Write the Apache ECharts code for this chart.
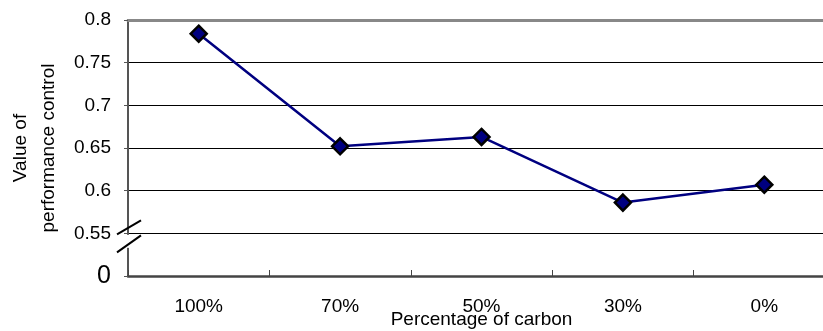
<!DOCTYPE html>
<html>
<head>
<meta charset="utf-8">
<script src="https://cdn.jsdelivr.net/npm/echarts@6/dist/echarts.min.js"></script>
<style>
html,body{margin:0;padding:0;background:#fff;}
#main{width:823px;height:331px;}
</style>
</head>
<body>
<div id="main"></div>
<script>
// ---- data ----
var xCategories = ['100%', '70%', '50%', '30%', '0%'];
var yValues = [0.784, 0.652, 0.663, 0.586, 0.607];
// tick labels for the broken axis: the lowest tick stands for 0
var yTickValues = [0.5, 0.55, 0.6, 0.65, 0.7, 0.75, 0.8];
var yTickLabels = ['0', '0.55', '0.6', '0.65', '0.7', '0.75', '0.8'];
var xAxisTitle = 'Percentage of carbon';
var yAxisTitle = 'Value of\nperformance control';

var FONT = '"Liberation Sans", Arial, sans-serif';
var FS = 19;
var chart = echarts.init(document.getElementById('main'), null, {renderer: 'canvas'});

function yLabel(v) {
  var best = 0, bd = Infinity;
  for (var i = 0; i < yTickValues.length; i++) {
    var d = Math.abs(yTickValues[i] - v);
    if (d < bd) { bd = d; best = i; }
  }
  if (best === 0) return '{big|' + yTickLabels[best] + '}';
  return yTickLabels[best];
}

chart.setOption({
  animation: false,
  backgroundColor: '#fff',
  textStyle: {fontFamily: FONT},
  grid: {left: 128, right: -12, top: 20, bottom: 55, containLabel: false, outerBoundsMode: 'none'},
  xAxis: [{
    type: 'category',
    data: xCategories,
    boundaryGap: true,
    position: 'bottom',
    axisLine: {onZero: false, lineStyle: {color: '#444', width: 2.5}},
    axisTick: {show: true, inside: true, length: 6, lineStyle: {color: '#444', width: 1}},
    axisLabel: {color: '#000', fontSize: FS, fontFamily: FONT, margin: 21},
    splitLine: {show: false},
    name: xAxisTitle,
    nameLocation: 'middle',
    nameGap: 34,
    nameMoveOverlap: false,
    nameTextStyle: {color: '#000', fontSize: FS, fontFamily: FONT}
  }, {
    type: 'category',
    data: xCategories,
    position: 'top',
    axisLine: {onZero: false, lineStyle: {color: '#888', width: 3}},
    axisTick: {show: false},
    axisLabel: {show: false},
    splitLine: {show: false}
  }],
  yAxis: {
    type: 'value',
    min: 0.5,
    max: 0.8,
    interval: 0.05,
    axisLine: {show: true, onZero: false, lineStyle: {color: '#555', width: 2}},
    axisTick: {show: true, inside: false, length: 4, lineStyle: {color: '#555', width: 1}},
    axisLabel: {
      color: '#000', fontSize: FS, fontFamily: FONT, margin: 17,
      formatter: yLabel,
      rich: {big: {fontSize: 25, fontFamily: FONT, color: '#000'}}
    },
    splitLine: {show: true, lineStyle: {color: '#000', width: 1}},
    name: yAxisTitle,
    nameLocation: 'middle',
    nameGap: 65,
    nameRotate: 90,
    nameMoveOverlap: false,
    nameTextStyle: {color: '#000', fontSize: FS, fontFamily: FONT, lineHeight: 28, align: 'center'}
  },
  series: [{
    type: 'line',
    data: yValues,
    xAxisIndex: 0,
    symbol: 'diamond',
    symbolSize: 16,
    showSymbol: true,
    lineStyle: {color: '#000080', width: 2.5},
    itemStyle: {color: '#000080', borderColor: '#000', borderWidth: 2.5},
    z: 5
  }]
});

// axis break marks between the lowest tick (0) and 0.55
var p0 = chart.convertToPixel({xAxisIndex: 0}, 0);
var p1 = chart.convertToPixel({xAxisIndex: 0}, 1);
var axisX = p0 - (p1 - p0) / 2;
var y55 = chart.convertToPixel({yAxisIndex: 0}, yTickValues[1]);
chart.setOption({
  graphic: [
    {type: 'rect', z: 100, shape: {x: axisX - 3, y: y55 + 1.5, width: 6, height: 13}, style: {fill: '#fff'}},
    {type: 'line', z: 101, shape: {x1: axisX - 11, y1: y55 + 1, x2: axisX + 13, y2: y55 - 13}, style: {stroke: '#000', lineWidth: 2}},
    {type: 'line', z: 101, shape: {x1: axisX - 11, y1: y55 + 19, x2: axisX + 13, y2: y55 + 2}, style: {stroke: '#000', lineWidth: 2}}
  ]
});
</script>
</body>
</html>
